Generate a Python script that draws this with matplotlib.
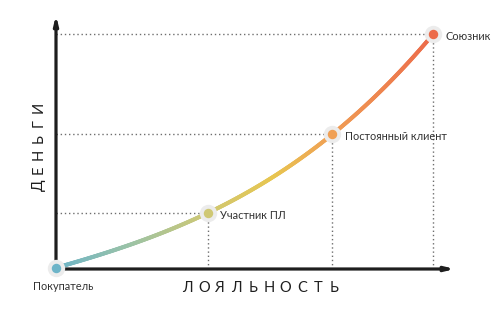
import numpy as np
import matplotlib
matplotlib.use("Agg")
import matplotlib.pyplot as plt
from matplotlib.collections import LineCollection
from matplotlib.colors import LinearSegmentedColormap

plt.rcParams['font.family'] = ['Lato', 'DejaVu Sans']

# Data
stages = ["Покупатель", "Участник ПЛ", "Постоянный клиент", "Союзник"]
loyalty = [0.0, 3.0, 5.47, 7.47]
money = [0.05, 2.2, 5.3, 9.25]
x_label = "ЛОЯЛЬНОСТЬ"
y_label = "ДЕНЬГИ"
dot_colors = ["#6db4c8", "#cfc874", "#f0a055", "#ec6b4a"]

W, H, DPI = 504, 316, 100
fig = plt.figure(figsize=(W / DPI, H / DPI), dpi=DPI)
fig.patch.set_facecolor("white")
ax = fig.add_axes([56 / W, (H - 269) / H, (460 - 56) / W, (269 - 15) / H])
ax.set_xlim(0, 8.0)
ax.set_ylim(0, 10.0)
ax.axis("off")

# smooth curve through the points
xs = np.array(loyalty)
ys = np.array(money)
coef = np.polyfit(xs, ys, 3)
xx = np.linspace(xs[0], xs[-1], 400)
yy = np.polyval(coef, xx)
pts = np.column_stack([xx, yy]).reshape(-1, 1, 2)
segs = np.concatenate([pts[:-1], pts[1:]], axis=1)
cmap = LinearSegmentedColormap.from_list(
    "grad",
    [(0.0, "#6db4c8"), (0.2, "#9cc3a6"), (0.4, "#cfc874"), (0.58, "#e8c650"),
     (0.73, "#f0a055"), (1.0, "#ec6b4a")])
lc = LineCollection(segs, cmap=cmap, linewidths=2.9, capstyle="round", zorder=3)
lc.set_array(xx[:-1] / xs[-1])
ax.add_collection(lc)

# dotted guides
for xv, yv in zip(loyalty[1:], money[1:]):
    ax.plot([0, xv], [yv, yv], color="#6e6e6e", lw=1.0, ls=(0, (1, 2)), zorder=1)
    ax.plot([xv, xv], [0, yv], color="#6e6e6e", lw=1.0, ls=(0, (1, 2)), zorder=1)

# axes with arrows
ax.annotate("", xy=(7.9, 0), xytext=(0, 0),
            arrowprops=dict(arrowstyle="-|>,head_length=0.5,head_width=0.12",
                            color="#1e1e1e", lw=2.3, shrinkA=0, shrinkB=0),
            zorder=2, annotation_clip=False)
ax.annotate("", xy=(0, 10.0), xytext=(0, 0),
            arrowprops=dict(arrowstyle="-|>,head_length=0.5,head_width=0.12",
                            color="#1e1e1e", lw=2.3, shrinkA=0, shrinkB=0),
            zorder=2, annotation_clip=False)

# markers
for xv, yv, c in zip(loyalty, money, dot_colors):
    ax.plot(xv, yv, "o", ms=12.5, color="#ececec", mec="none", zorder=4, clip_on=False)
    ax.plot(xv, yv, "o", ms=6.8, color=c, mec="none", zorder=5, clip_on=False)

# labels
ax.text(loyalty[0] + 0.14, money[0] - 0.75, stages[0], ha="center", va="center",
        fontsize=7.9, color="#333333")
for xv, yv, s in zip(loyalty[1:], money[1:], stages[1:]):
    ax.text(xv + 0.25, yv - 0.1, s, ha="left", va="center", fontsize=7.9, color="#333333")

# spaced axis titles, letter by letter
n = len(x_label)
for i, ch in enumerate(x_label):
    px = 187.5 + i * (334.5 - 187.5) / (n - 1)
    fig.text(px / W, 1 - 288 / H, ch, ha="center", va="center",
             fontsize=10.5, color="#1e1e1e")
m = len(y_label)
for i, ch in enumerate(y_label):
    py = 185.5 - i * (185.5 - 107.5) / (m - 1)
    fig.text(39 / W, 1 - py / H, ch, ha="center", va="center", rotation=90,
             fontsize=10.5, color="#1e1e1e")

fig.savefig("out.png", dpi=DPI)
